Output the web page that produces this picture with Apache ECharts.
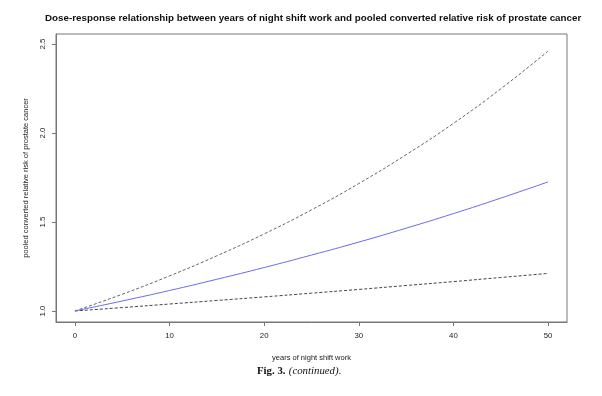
<!DOCTYPE html>
<html>
<head>
<meta charset="utf-8">
<script src="https://cdn.jsdelivr.net/npm/echarts@6/dist/echarts.min.js"></script>
<style>html,body{margin:0;padding:0;background:#fff;}#c{width:602px;height:396px;}</style>
</head>
<body>
<div id="c"></div>
<script>
const years = [0, 5, 10, 15, 20, 25, 30, 35, 40, 45, 50];
const rrEstimate = [1.000, 1.056, 1.115, 1.178, 1.244, 1.314, 1.387, 1.465, 1.547, 1.634, 1.725];
const rrUpper = [1.000, 1.094, 1.197, 1.310, 1.433, 1.568, 1.716, 1.878, 2.054, 2.248, 2.460];
const rrLower = [1.000, 1.019, 1.039, 1.059, 1.079, 1.100, 1.121, 1.143, 1.165, 1.188, 1.211];
const xTicks = [0, 10, 20, 30, 40, 50];
const yTicks = [1.0, 1.5, 2.0, 2.5];

const pairs = arr => years.map((x, i) => [x, arr[i]]);
const font = 'Liberation Sans, Arial, sans-serif';
const serif = 'Liberation Serif, Times New Roman, serif';

const chart = echarts.init(document.getElementById('c'), null, {renderer: 'canvas'});
chart.setOption({
  animation: false,
  backgroundColor: '#fff',
  title: {
    text: 'Dose-response relationship between years of night shift work and pooled converted relative risk of prostate cancer',
    left: 45, top: 13, padding: 0,
    textStyle: {fontFamily: font, fontSize: 9.8, fontWeight: 'bold', color: '#111'}
  },
  grid: {left: 56, right: 35, top: 34, bottom: 74, show: true, borderColor: '#777', borderWidth: 1, backgroundColor: 'transparent'},
  xAxis: {
    type: 'value', min: -2, max: 52,
    name: 'years of night shift work', nameLocation: 'middle', nameGap: 32,
    nameTextStyle: {fontFamily: font, fontSize: 7.5, color: '#222'},
    axisLine: {show: true, onZero: false, lineStyle: {color: '#777', width: 1}},
    axisTick: {show: true, length: 4, lineStyle: {color: '#777'}, customValues: xTicks},
    axisLabel: {customValues: xTicks, fontFamily: font, fontSize: 7.8, color: '#222', margin: 10},
    splitLine: {show: false}
  },
  yAxis: {
    type: 'value', min: 0.938, max: 2.556,
    name: 'pooled converted relative risk of prostate cancer', nameLocation: 'middle', nameGap: 26, nameRotate: 90,
    nameTextStyle: {fontFamily: font, fontSize: 7.5, color: '#222'},
    axisLine: {show: true, onZero: false, lineStyle: {color: '#777', width: 1}},
    axisTick: {show: true, length: 4, lineStyle: {color: '#777'}, customValues: yTicks},
    axisLabel: {customValues: yTicks, rotate: 90, fontFamily: font, fontSize: 7.8, color: '#222', margin: 9,
      formatter: v => v.toFixed(1)},
    splitLine: {show: false}
  },
  series: [
    {type: 'line', data: pairs(rrUpper), smooth: true, symbol: 'none',
      lineStyle: {color: '#666', width: 1, type: [3, 2]}},
    {type: 'line', data: pairs(rrLower), smooth: true, symbol: 'none',
      lineStyle: {color: '#444', width: 1, type: [3, 2]}},
    {type: 'line', data: pairs(rrEstimate), smooth: true, symbol: 'none',
      lineStyle: {color: '#6b6bf2', width: 1}}
  ],
  graphic: [{
    type: 'text', left: 257, top: 365,
    style: {
      text: '{b|Fig. 3.} {i|(continued)}{n|.}',
      rich: {
        b: {fontFamily: serif, fontSize: 10.8, fontWeight: 'bold', fill: '#111'},
        i: {fontFamily: serif, fontSize: 10.8, fontStyle: 'italic', fill: '#111'},
        n: {fontFamily: serif, fontSize: 10.8, fill: '#111'}
      }
    }
  }]
});
</script>
</body>
</html>
